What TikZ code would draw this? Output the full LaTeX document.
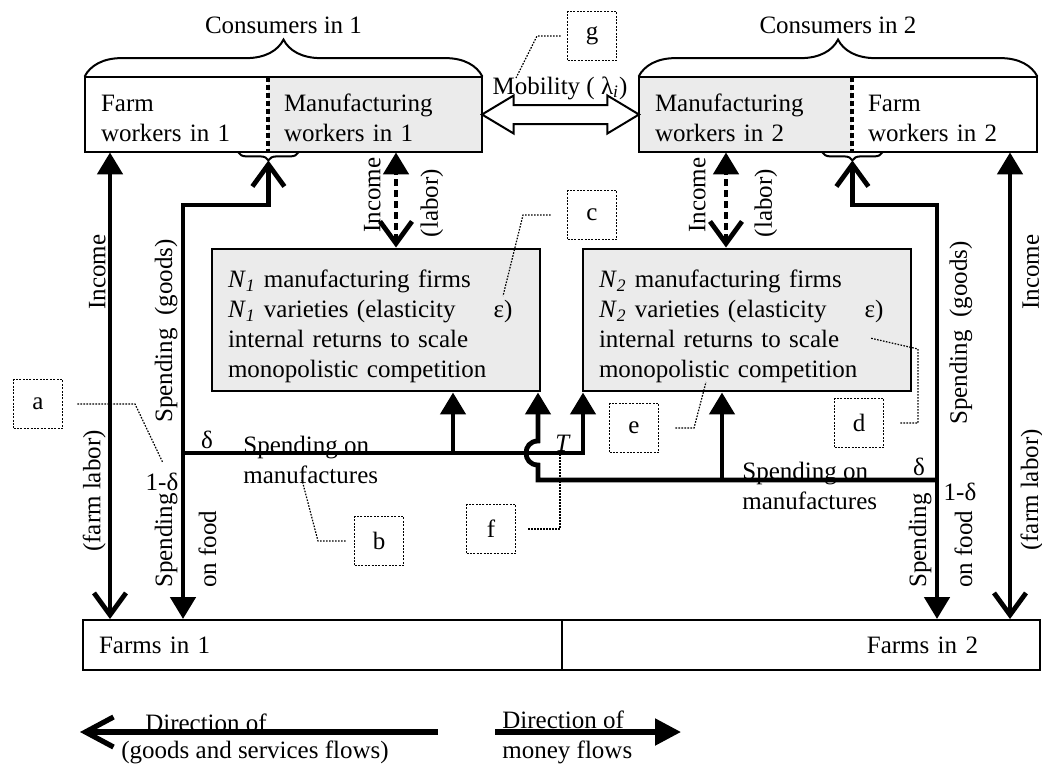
\documentclass[tikz,border=0pt]{standalone}
\usepackage{fontspec}
\setmainfont{Liberation Serif}
\usepackage{tikz}
\usetikzlibrary{arrows.meta,positioning,shapes.arrows,decorations.pathreplacing,calc}

\begin{document}
\begin{tikzpicture}[x=0.5pt,y=-0.5pt]\fontsize{12.5}{15}\selectfont
  \tikzset{
    money/.tip={Triangle[length=11pt,width=12.5pt]},
    goods/.tip={Straight Barb[length=11pt,width=16pt]},
    flow/.style={line width=2.4pt},
    labor/.style={flow,dash pattern=on 3.5pt off 2pt},
    wbox/.style={inner xsep=8pt,inner ysep=0pt,minimum height=37.5pt,align=left},
    fbox/.style={draw,line width=1pt,fill=gray!16,inner xsep=8pt,minimum height=68.5pt,text width=148pt,align=left},
    farmbox/.style={draw,line width=1pt,inner xsep=8pt,minimum height=25pt},
    tag/.style={draw,line width=0.9pt,dash pattern=on 1pt off 0.7pt,minimum size=24.5pt,inner sep=0pt},
    leader/.style={line width=0.6pt,dash pattern=on 0.8pt off 0.7pt},
    vlab/.style={rotate=90,inner sep=1pt},
    curly/.style={decorate,decoration={brace,amplitude=#1},line width=1pt}
  }
  \useasboundingbox (0,0) rectangle (1042,765);

  \node[wbox,text width=75.5pt] (farm1) at (176.5,114.5) {\rule{0pt}{12pt}Farm\\workers in 1};
  \node[wbox,fill=gray!16,text width=91pt] (manu1) at (375,114.5) {\rule{0pt}{12pt}Manufacturing\\workers in 1};
  \node[wbox,fill=gray!16,text width=90.5pt] (manu2) at (745.5,114.5) {\rule{0pt}{12pt}Manufacturing\\workers in 2};
  \node[wbox,text width=76.5pt] (farm2) at (944.5,114.5) {\rule{0pt}{12pt}Farm\\workers in 2};
  \draw[line width=1pt] (farm1.north west) rectangle (manu1.south east);
  \draw[line width=1pt] (manu2.north west) rectangle (farm2.south east);
  \draw[line width=2pt,dash pattern=on 2.5pt off 1.5pt] (farm1.north east) -- (farm1.south east);
  \draw[line width=2pt,dash pattern=on 2.5pt off 1.5pt] (manu2.north east) -- (manu2.south east);

  \draw[curly=18.5pt] (farm1.north west) -- node[above=17pt] (cons1) {Consumers in 1} (manu1.north east);
  \draw[curly=18.5pt] (manu2.north west) -- node[above=17pt] (cons2) {Consumers in 2} (farm2.north east);
  \draw[curly=4pt] ([xshift=15pt]farm1.south east) -- ([xshift=-15pt]farm1.south east);
  \draw[curly=4pt] ([xshift=15pt]manu2.south east) -- ([xshift=-15pt]manu2.south east);

  \node[double arrow,draw,line width=1pt,fill=white,minimum height=78.5pt,minimum width=18pt,
        double arrow head extend=4.75pt,double arrow tip angle=62,inner sep=4.25pt]
        (mob) at ($(manu1.east)!0.5!(manu2.west)$) {};
  \node (moblab) at (560,88) {Mobility ( λ\textsubscript{\textit{i}})};

  \node[fbox] (firms1) at (376,320) {\rule{0pt}{15.5pt}\textit{N}\textsubscript{\textit{1}} manufacturing firms\\
    \textit{N}\textsubscript{\textit{1}} varieties (elasticity\hspace{19pt}ε)\\
    internal returns to scale\\
    monopolistic competition};
  \node[fbox] (firms2) at (747,320) {\rule{0pt}{15.5pt}\textit{N}\textsubscript{\textit{2}} manufacturing firms\\
    \textit{N}\textsubscript{\textit{2}} varieties (elasticity\hspace{19pt}ε)\\
    internal returns to scale\\
    monopolistic competition};

  \node[farmbox,text width=223.5pt,align=left] (farms1) at (322.5,645) {Farms in 1};
  \node[farmbox,text width=223pt,align=right] (farms2) at (801,645) {\mbox{Farms in 2\hspace{23pt}}};

  \coordinate (xinc1) at (110,0);
  \coordinate (xsp1) at (183,0);
  \coordinate (xlab1) at (396,0);
  \coordinate (xm1) at (453,0);
  \coordinate (xhop) at (538,0);
  \coordinate (xt) at (583,0);
  \coordinate (xm2) at (722,0);
  \coordinate (xlab2) at (726,0);
  \coordinate (xsp2) at (937,0);
  \coordinate (xinc2) at (1010,0);
  \coordinate (ysp) at (0,205);
  \coordinate (yman1) at (0,453);
  \coordinate (yman2) at (0,480);

  \draw[flow,{goods}-{money}] (farms1.north -| xinc1) -- (farm1.south -| xinc1);
  \draw[flow,{goods}-{money}] (farms2.north -| xinc2) -- (farm2.south -| xinc2);
  \draw[labor,{goods}-{money}] (firms1.north -| xlab1) -- (manu1.south -| xlab1);
  \draw[labor,{goods}-{money}] (firms2.north -| xlab2) -- (manu2.south -| xlab2);

  \draw[flow,{goods}-{money}] ([yshift=-4pt]farm1.south east) -- (farm1.south east |- ysp)
    -- (xsp1 |- ysp) -- (farms1.north -| xsp1);
  \draw[flow,-{money}] (xsp1 |- yman1) -- (xt |- yman1) -- (firms2.south -| xt);
  \draw[flow,-{money}] (xm1 |- yman1) -- (firms1.south -| xm1);
  \draw[flow,{goods}-{money}] ([yshift=-4pt]manu2.south east) -- (manu2.south east |- ysp)
    -- (xsp2 |- ysp) -- (farms2.north -| xsp2);
  \draw[flow,-{money}] (xsp2 |- yman2) -- (xhop |- yman2) -- (538,465)
    .. controls (522,465) and (522,441) .. (538,441) -- (firms1.south -| xhop);
  \draw[flow,-{money}] (xm2 |- yman2) -- (firms2.south -| xm2);

  \node[vlab,anchor=south] (inc1) at (108,272) {Income};
  \node[vlab,anchor=south] (flab1) at (108,491) {(farm labor)};
  \node[vlab,anchor=north] (inc2) at (1020,272) {Income};
  \node[vlab,anchor=north] (flab2) at (1018,490) {(farm labor)};
  \node[vlab,anchor=south] (spg1) at (180,331) {Spending\ \ (goods)};
  \node[vlab,anchor=north] (spg2) at (947,333) {Spending\ \ (goods)};
  \node[vlab,anchor=south west] (spf1) at (180,590) {Spending};
  \node[vlab,anchor=north west] (onf1) at (196,590) {on food};
  \node[vlab,anchor=south west] (spf2) at (934,590) {Spending};
  \node[vlab,anchor=north west] (onf2) at (952,590) {on food};
  \node[vlab,anchor=south] (linc1) at (383,195) {Income};
  \node[vlab,anchor=north] (llab1) at (418,203) {(labor)};
  \node[vlab,anchor=south] (linc2) at (708,195) {Income};
  \node[vlab,anchor=north] (llab2) at (752,203) {(labor)};

  \node (d1) at (207,440) {δ};
  \node (od1) at (162,482) {1-δ};
  \node (d2) at (919,467) {δ};
  \node (od2) at (960,492) {1-δ};
  \node[align=left,anchor=west,inner sep=0pt] (spm1) at (243,460) {Spending on\\manufactures};
  \node[align=left,anchor=west,inner sep=0pt] (spm2) at (742,486) {Spending on\\manufactures};
  \node (tT) at (563,443) {\textit{T}};

  \node[tag] (la) at (38,404) {a};
  \node[tag] (lb) at (379,541) {b};
  \node[tag] (lc) at (592,215) {c};
  \node[tag] (ld) at (859,423) {d};
  \node[tag] (le) at (634,428) {e};
  \node[tag] (lf) at (491,529) {f};
  \node[tag] (lg) at (592,36) {g};
  \draw[leader] ([xshift=7pt]la.east) -- (135,404) -- (163,463);
  \draw[leader] ([xshift=-4pt]lb.west) -- (318,541) -- (302,480);
  \draw[leader] ([xshift=-8pt]lc.west) -- (523,215) -- (503,296);
  \draw[leader] ([xshift=8pt]ld.east) -- (918,423) -- (918,349) -- (870,338);
  \draw[leader] ([xshift=8pt]le.east) -- (694,428) -- (706,382);
  \draw[leader] ([xshift=6pt]lf.east) -- (560,529) -- (560,455);
  \draw[leader] ([xshift=-3pt]lg.west) -- (537,36) -- (516,78);

  \coordinate (lg1a) at (438,732);
  \coordinate (lg1b) at (80,732);
  \coordinate (lg2a) at (495,732);
  \coordinate (lg2b) at (681,732);
  \draw[line width=2.6pt,-{Straight Barb[length=14pt,width=15pt]}] (lg1a) -- (lg1b);
  \draw[line width=2.6pt,-{Triangle[length=13pt,width=13pt]}] (lg2a) -- (lg2b);
  \node (dir1) at (206,723) {Direction of};
  \node (gsf) at (255,752) {(goods and services flows)};
  \node[align=left,anchor=west,inner sep=0pt] (dir2) at (502,737.5) {Direction of\\money flows};
\end{tikzpicture}
\end{document}
